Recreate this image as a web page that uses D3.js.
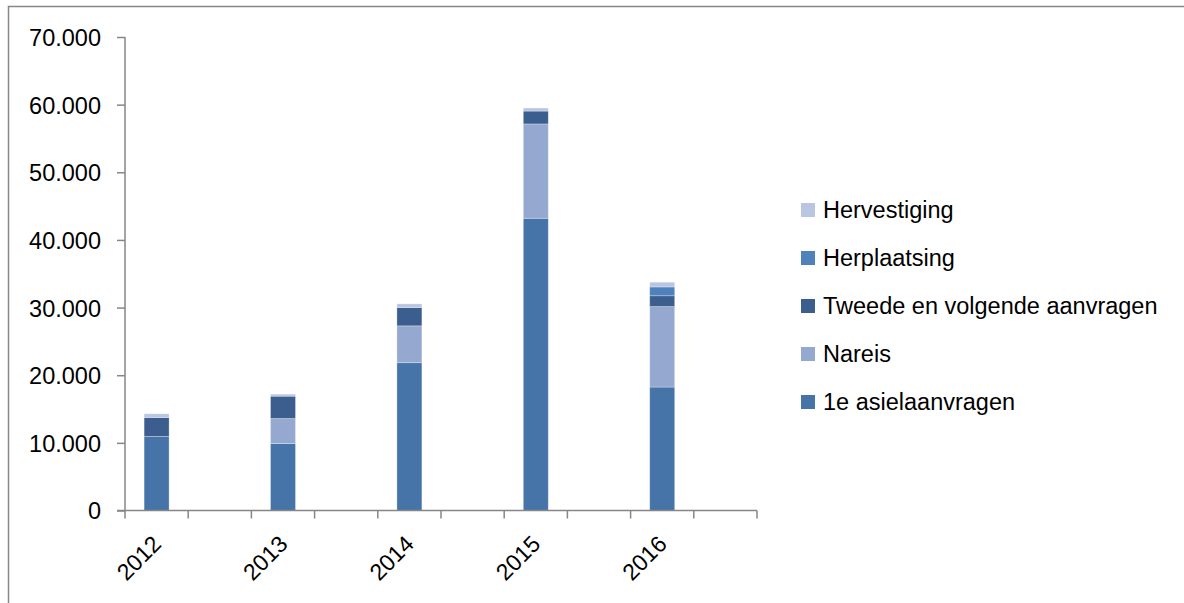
<!DOCTYPE html>
<html>
<head>
<meta charset="utf-8">
<script src="https://cdn.jsdelivr.net/npm/d3@7"></script>
<style>
  body { margin: 0; background: #fff; }
  svg text { font-family: "Liberation Sans", Arial, sans-serif; fill: #000; }
</style>
</head>
<body>
<div id="chart"></div>
<script>
// Data (empty slots are blank categories in the original sheet)
var categories = ["2012", "", "2013", "", "2014", "", "2015", "", "2016", ""];
var seriesNames = ["1e asielaanvragen", "Nareis", "Tweede en volgende aanvragen", "Herplaatsing", "Hervestiging"];
var eersteAanvragen = [10950, null, 9900, null, 21850, null, 43200, null, 18250, null];
var nareis          = [0,     null, 3700, null, 5450,  null, 13950, null, 11900, null];
var tweedeAanvragen = [2800,  null, 3300, null, 2700,  null, 1900,  null, 1600,  null];
var herplaatsing    = [0,     null, 0,    null, 0,     null, 0,     null, 1300,  null];
var hervestiging    = [550,   null, 300,  null, 550,   null, 450,   null, 700,   null];
var yTicks = [0, 10000, 20000, 30000, 40000, 50000, 60000, 70000];
var colors = ["#4674a9", "#95a9d0", "#3b5e8e", "#4f81bd", "#b9c6e1"];

var width = 1184, height = 603;
var margin = {left: 125, right: 426, top: 37, bottom: 92};

var svg = d3.select("#chart").append("svg")
    .attr("width", width)
    .attr("height", height);

// outer chart frame (only top and left edges are visible)
svg.append("rect")
    .attr("x", 8.5).attr("y", 6.5)
    .attr("width", 1300).attr("height", 700)
    .attr("fill", "none")
    .attr("stroke", "#878787")
    .attr("stroke-width", 1.5);

var x = d3.scaleBand()
    .domain(d3.range(categories.length))
    .range([margin.left, width - margin.right - 1])
    .paddingInner(0.605)
    .paddingOuter(0.3025);

var y = d3.scaleLinear()
    .domain([0, 70000])
    .range([height - margin.bottom - 0.5, margin.top]);

var nl = d3.formatLocale({decimal: ",", thousands: ".", grouping: [3], currency: ["€", ""]});
var fmt = nl.format(",");

// stack the series
var rows = categories.map(function(c, i) {
    return {i: i, s0: eersteAanvragen[i] || 0, s1: nareis[i] || 0, s2: tweedeAanvragen[i] || 0,
            s3: herplaatsing[i] || 0, s4: hervestiging[i] || 0};
});
var stack = d3.stack().keys(["s0", "s1", "s2", "s3", "s4"]);
var layers = stack(rows);

svg.append("g").selectAll("g")
    .data(layers)
    .enter().append("g")
    .attr("fill", function(d, k) { return colors[k]; })
    .selectAll("rect")
    .data(function(d) { return d.filter(function(p) { return p[1] > p[0]; }); })
    .enter().append("rect")
    .attr("x", function(d) { return x(d.data.i); })
    .attr("width", x.bandwidth())
    .attr("y", function(d) { return y(d[1]); })
    .attr("height", function(d) { return y(d[0]) - y(d[1]); })
    .attr("stroke", "rgba(255,255,255,0.35)")
    .attr("stroke-width", 0.8);

// y axis
var yAxis = svg.append("g")
    .attr("transform", "translate(" + margin.left + ",0)")
    .call(d3.axisLeft(y).tickValues(yTicks).tickFormat(fmt).tickSize(8).tickPadding(16));
yAxis.selectAll("line, path").attr("stroke", "#868686").attr("stroke-width", 1.5);
yAxis.select(".domain").attr("d", "M0," + y(70000) + "V" + y(0));
yAxis.selectAll("text").style("font-size", "23.5px").attr("dy", "0.36em");

// x axis: tick marks between categories
var xAxis = svg.append("g");
var x0 = x.range()[0], step = x.step();
xAxis.append("line")
    .attr("x1", x0 - 8).attr("x2", x.range()[1])
    .attr("y1", y(0)).attr("y2", y(0))
    .attr("stroke", "#868686").attr("stroke-width", 1.5);
xAxis.selectAll(".tick")
    .data(d3.range(categories.length + 1))
    .enter().append("line")
    .attr("x1", function(d) { return x0 + d * step; })
    .attr("x2", function(d) { return x0 + d * step; })
    .attr("y1", y(0)).attr("y2", y(0) + 8)
    .attr("stroke", "#868686").attr("stroke-width", 1.5);

xAxis.selectAll(".lbl")
    .data(categories.map(function(c, i) { return {c: c, i: i}; }).filter(function(d) { return d.c; }))
    .enter().append("text")
    .attr("class", "lbl")
    .attr("transform", function(d) {
        return "translate(" + (x(d.i) + x.bandwidth() / 2 + 6) + "," + (y(0) + 35) + ") rotate(-45)";
    })
    .attr("text-anchor", "end")
    .style("font-size", "23px")
    .text(function(d) { return d.c; });

// legend (reverse of stack order)
var legendItems = d3.range(seriesNames.length).reverse();
var legend = svg.append("g").selectAll("g")
    .data(legendItems)
    .enter().append("g")
    .attr("transform", function(d, k) { return "translate(801," + (210 + k * 48) + ")"; });
legend.append("rect")
    .attr("x", 0).attr("y", -7)
    .attr("width", 14).attr("height", 14)
    .attr("fill", function(d) { return colors[d]; });
legend.append("text")
    .attr("x", 22).attr("y", 0)
    .attr("dy", "0.36em")
    .style("font-size", "23.5px")
    .text(function(d) { return seriesNames[d]; });
</script>
</body>
</html>
